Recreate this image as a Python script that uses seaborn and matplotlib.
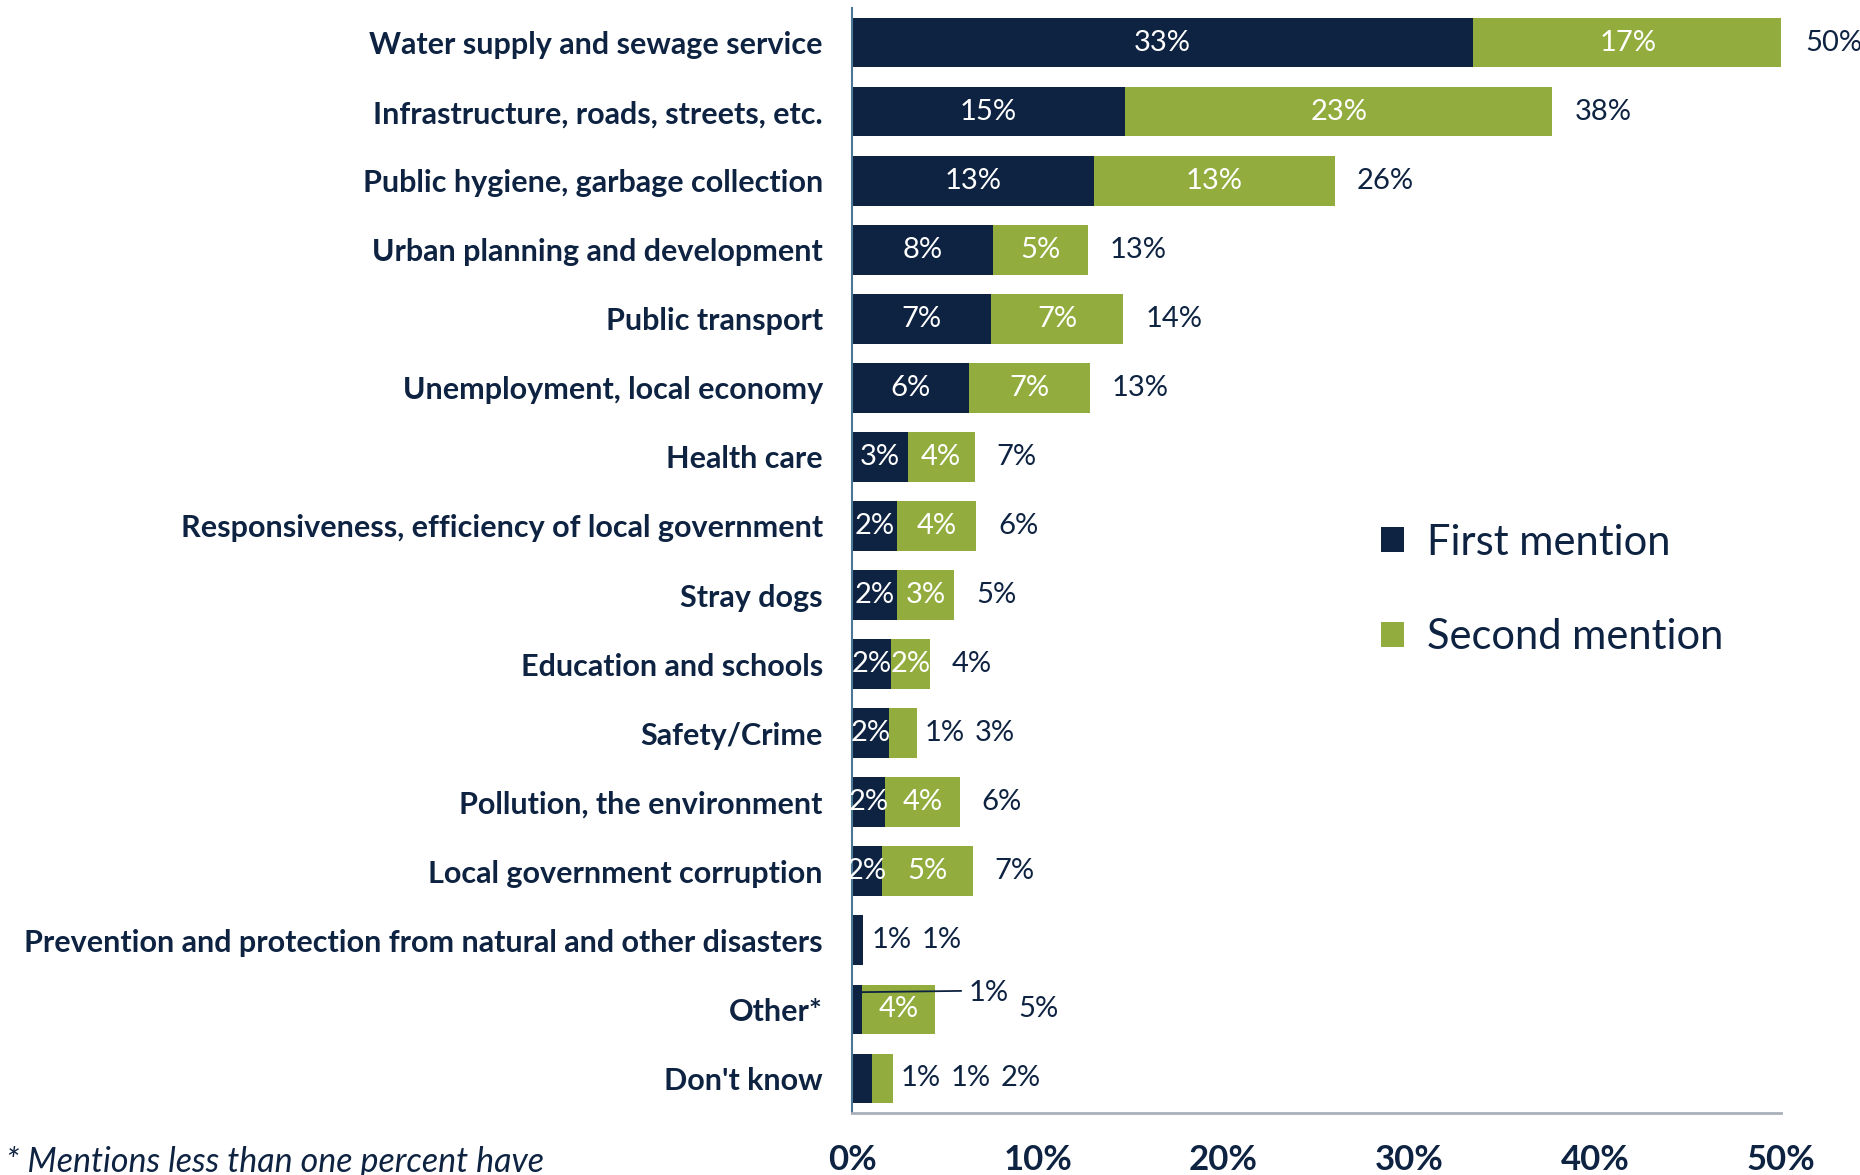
# Local problems: first and second mention (stacked horizontal bars)
import numpy as np
import pandas as pd
import matplotlib
matplotlib.use("Agg")
import matplotlib.pyplot as plt
import matplotlib.transforms as mtransforms
from matplotlib.patches import Patch
import seaborn as sns

# Data
categories = ["Water supply and sewage service",
              "Infrastructure, roads, streets, etc.",
              "Public hygiene, garbage collection",
              "Urban planning and development",
              "Public transport",
              "Unemployment, local economy",
              "Health care",
              "Responsiveness, efficiency of local government",
              "Stray dogs",
              "Education and schools",
              "Safety/Crime",
              "Pollution, the environment",
              "Local government corruption",
              "Prevention and protection from natural and other disasters",
              "Other*",
              "Don't know"]
first_mention = [33.4, 14.7, 13.0, 7.6, 7.5, 6.3, 3.0, 2.4, 2.4, 2.1, 2.0, 1.8, 1.6, 0.6, 0.55, 1.1]
second_mention = [16.7, 23.0, 13.0, 5.1, 7.1, 6.5, 3.6, 4.3, 3.1, 2.1, 1.5, 4.0, 4.9, 0.0, 3.9, 1.1]
first_labels = [33, 15, 13, 8, 7, 6, 3, 2, 2, 2, 2, 2, 2, 1, 1, 1]
second_labels = [17, 23, 13, 5, 7, 7, 4, 4, 3, 2, 1, 4, 5, 0, 4, 1]
total_labels = [50, 38, 26, 13, 14, 13, 7, 6, 5, 4, 3, 6, 7, 1, 5, 2]
leader_rows = ["Other*"]
xticks = [0, 10, 20, 30, 40, 50]

navy = "#0E2341"
green = "#92AD3E"
spine_col = "#4A7894"
grid_grey = "#A9B0B9"

df = pd.DataFrame({"category": categories,
                   "first": first_mention,
                   "second": second_mention})
df["total"] = df["first"] + df["second"]

sns.set_style("white")
plt.rcParams["font.family"] = ["Lato", "DejaVu Sans"]

W, H = 1860, 1175
fig = plt.figure(figsize=(W / 100, H / 100), dpi=100)
ax = fig.add_axes([852 / W, 1 - 1113 / H, (1781 - 852) / W, (1113 - 8) / H])

# green = total, navy drawn on top = first mention
sns.barplot(data=df, x="total", y="category", color=green, saturation=1,
            width=0.72, linewidth=0, orient="h", ax=ax)
sns.barplot(data=df, x="first", y="category", color=navy, saturation=1,
            width=0.72, linewidth=0, orient="h", ax=ax)

ax.set_xlim(0, 50)
ax.set_xlabel("")
ax.set_ylabel("")
ax.set_xticks(xticks)
ax.set_xticklabels([f"{v}%" for v in xticks], fontsize=25, fontweight="bold", color=navy)
ax.tick_params(axis="x", length=8, width=1.3, color=grid_grey, pad=14)
ax.set_yticks(range(len(categories)))
ax.set_yticklabels(categories, fontsize=22, fontweight="bold", color=navy)
ax.tick_params(axis="y", which="major", length=0, pad=21)
ax.set_yticks(np.arange(-0.5, len(categories), 1), minor=True)
ax.tick_params(axis="y", which="minor", length=6.5, width=1.5, color=spine_col)

for s in ["top", "right"]:
    ax.spines[s].set_visible(False)
ax.spines["left"].set_color(spine_col)
ax.spines["left"].set_linewidth(1.5)
ax.spines["bottom"].set_color(grid_grey)
ax.spines["bottom"].set_linewidth(2)

lab_fs = 21
min_inside = 1.55
for i, row in df.iterrows():
    f, s, t = row["first"], row["second"], row["total"]
    outside = []
    # first mention label
    if f >= min_inside:
        ax.text(f / 2, i, f"{first_labels[i]}%", ha="center", va="center",
                color="white", fontsize=lab_fs)
    elif f > 0:
        outside.append(("first", first_labels[i]))
    # second mention label
    if s >= min_inside:
        ax.text(f + s / 2, i, f"{second_labels[i]}%", ha="center", va="center",
                color="white", fontsize=lab_fs)
    elif s > 0:
        outside.append(("second", second_labels[i]))

    off = 34 if row["category"] in leader_rows else 8
    for kind, lbl in outside:
        if kind == "first" and row["category"] in leader_rows:
            tr = mtransforms.offset_copy(ax.transData, fig=fig, x=off, y=16, units="dots")
            ax.annotate(f"{lbl}%", xy=(f, i - 0.25), xytext=(t, i), textcoords=tr,
                        ha="left", va="center", color=navy, fontsize=lab_fs,
                        arrowprops=dict(arrowstyle="-", color=navy, lw=1.3,
                                        relpos=(0, 0.6), shrinkA=3, shrinkB=0))
        else:
            ax.annotate(f"{lbl}%", xy=(t, i), xytext=(off, 0), textcoords="offset pixels",
                        ha="left", va="center", color=navy, fontsize=lab_fs)
        off += 50
    if not outside:
        off = 22
    ax.annotate(f"{total_labels[i]}%", xy=(t, i), xytext=(off, 0),
                textcoords="offset pixels", ha="left", va="center",
                color=navy, fontsize=lab_fs, annotation_clip=False)

handles = [Patch(facecolor=navy, edgecolor="none", label="First mention"),
           Patch(facecolor=green, edgecolor="none", label="Second mention")]
leg = fig.legend(handles=handles, loc="center left", bbox_to_anchor=(1381 / W, 1 - 590 / H),
                 frameon=False, fontsize=30, handlelength=0.55, handleheight=0.55,
                 handletextpad=0.55, labelspacing=1.36, borderpad=0, borderaxespad=0)
for txt in leg.get_texts():
    txt.set_color(navy)

fig.text(6 / W, 1 - 1146 / H, "* Mentions less than one percent have",
         fontsize=24.5, style="italic", color=navy, ha="left", va="top")

fig.savefig("out.png", dpi=100)
